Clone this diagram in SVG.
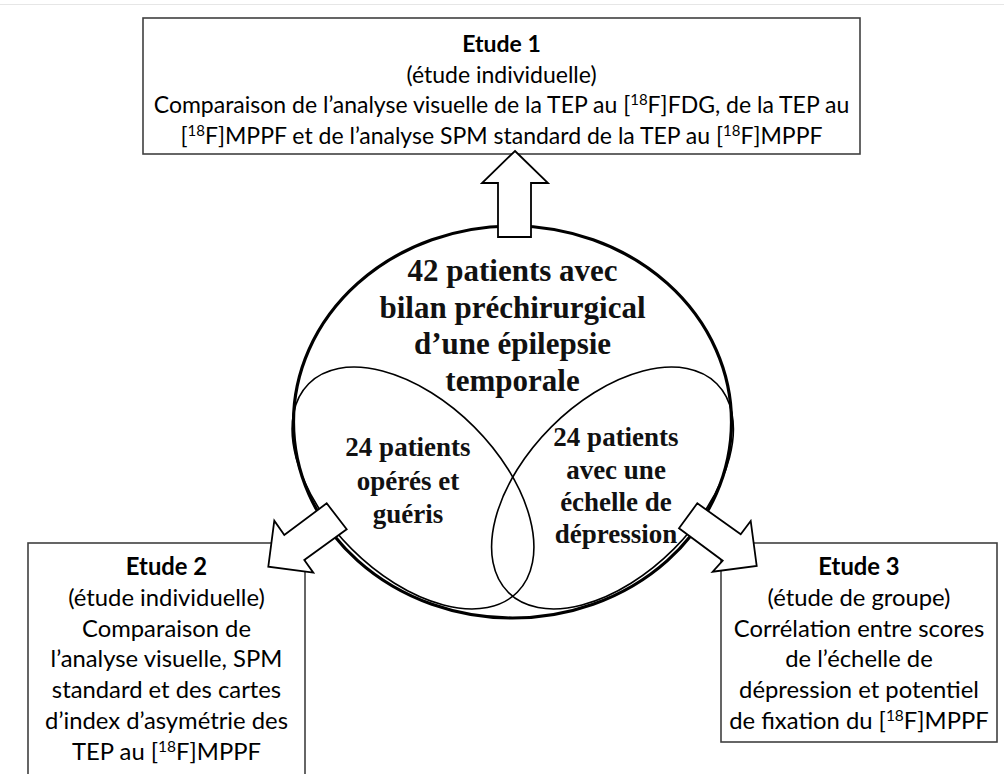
<svg xmlns="http://www.w3.org/2000/svg" width="1004" height="774" viewBox="0 0 1004 774">
  <style>
    .box { fill: #ffffff; stroke: #404040; stroke-width: 1.6; }
    .sans { font-family: Lato, "Liberation Sans", sans-serif; font-size: 23px; fill: #000; text-anchor: middle; }
    .side { font-size: 23.8px; }
    .serif { font-family: "Liberation Serif", serif; font-weight: bold; fill: #111; text-anchor: middle; }
    .main { font-size: 31px; }
    .sub { font-size: 27px; }
    .petal { fill: none; stroke: #000; stroke-width: 1.6; }
    .ring { fill: none; stroke: #000; stroke-width: 3.2; }
    .arrow { fill: #ffffff; stroke: #000; stroke-width: 1.8; stroke-linejoin: miter; }
  </style>
  <rect x="0" y="0" width="1004" height="774" fill="#ffffff"/>
  <line x1="0" y1="4.5" x2="1004" y2="4.5" stroke="#e6e6e6" stroke-width="1"/>

  <g id="etude1">
    <rect class="box" x="143" y="18" width="717" height="136"/>
    <text class="sans" x="501.5" y="52" font-weight="bold">Etude 1</text>
    <text class="sans" x="501.5" y="82.5">(étude individuelle)</text>
    <text class="sans" x="501.5" y="113">Comparaison de l’analyse visuelle de la TEP au [<tspan font-size="15" dy="-8">18</tspan><tspan dy="8">F]FDG, de la TEP au</tspan></text>
    <text class="sans" x="501.5" y="143.5">[<tspan font-size="15" dy="-8">18</tspan><tspan dy="8">F]MPPF et de l’analyse SPM standard de la TEP au [</tspan><tspan font-size="15" dy="-8">18</tspan><tspan dy="8">F]MPPF</tspan></text>
  </g>

  <g id="etude2">
    <rect class="box" x="28" y="543" width="277" height="234"/>
    <text class="sans side" x="166.5" y="575" font-weight="bold">Etude 2</text>
    <text class="sans side" x="166.5" y="605.8">(étude individuelle)</text>
    <text class="sans side" x="166.5" y="636.6">Comparaison de</text>
    <text class="sans side" x="166.5" y="667.4">l’analyse visuelle, SPM</text>
    <text class="sans side" x="166.5" y="698.2">standard et des cartes</text>
    <text class="sans side" x="166.5" y="729">d’index d’asymétrie des</text>
    <text class="sans side" x="166.5" y="759.8">TEP au [<tspan font-size="15.5" dy="-8">18</tspan><tspan dy="8">F]MPPF</tspan></text>
  </g>

  <g id="etude3">
    <rect class="box" x="721" y="543" width="276" height="199"/>
    <text class="sans side" x="859" y="575" font-weight="bold">Etude 3</text>
    <text class="sans side" x="859" y="605.8">(étude de groupe)</text>
    <text class="sans side" x="859" y="636.6">Corrélation entre scores</text>
    <text class="sans side" x="859" y="667.4">de l’échelle de</text>
    <text class="sans side" x="859" y="698.2">dépression et potentiel</text>
    <text class="sans side" x="859" y="729">de fixation du [<tspan font-size="15.5" dy="-8">18</tspan><tspan dy="8">F]MPPF</tspan></text>
  </g>

  <g id="operes-gueris">
    <ellipse class="petal" cx="413" cy="488" rx="147.5" ry="86.5" transform="rotate(45 413 488)"/>
    <text class="serif sub" x="408" y="456">24 patients</text>
    <text class="serif sub" x="408" y="489.5">opérés et</text>
    <text class="serif sub" x="408" y="523">guéris</text>
  </g>

  <g id="echelle-depression">
    <ellipse class="petal" cx="612.5" cy="488" rx="147.5" ry="86.5" transform="rotate(-45 612.5 488)"/>
    <text class="serif sub" x="616" y="446">24 patients</text>
    <text class="serif sub" x="616" y="478.5">avec une</text>
    <text class="serif sub" x="616" y="510.5">échelle de</text>
    <text class="serif sub" x="616" y="542.5">dépression</text>
  </g>

  <g id="population">
    <ellipse class="ring" cx="512.5" cy="422" rx="219" ry="196"/>
    <text class="serif main" x="512.5" y="281">42 patients avec</text>
    <text class="serif main" x="512.5" y="317.5">bilan préchirurgical</text>
    <text class="serif main" x="512.5" y="354">d’une épilepsie</text>
    <text class="serif main" x="512.5" y="390.5">temporale</text>
  </g>

  <g id="connectors">
    <polygon class="arrow" points="515,151 548,183 531,183 531,237 498,237 498,183 482,183"/>
    <polygon class="arrow" points="326.7,503.3 346.7,529.3 304.3,560 313.3,572.7 268.3,566.7 274.3,520.7 284.3,535"/>
    <polygon class="arrow" points="697.3,503.3 679,528.3 722.7,560.7 712.7,571.7 756.7,566 750.7,521 740.7,534.3"/>
  </g>
</svg>
